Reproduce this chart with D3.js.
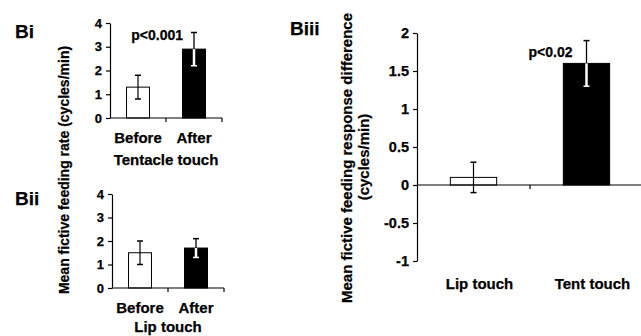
<!DOCTYPE html>
<html>
<head>
<meta charset="utf-8">
<script src="https://cdn.jsdelivr.net/npm/d3@7"></script>
<style>
  body { margin: 0; background: #fff; }
  svg text { font-family: "Liberation Sans", Arial, Helvetica, sans-serif; font-weight: bold; fill: #000; stroke: #000; stroke-width: 0.25px; }
</style>
</head>
<body>
<div id="chart"></div>
<script>
// panel Bi: tentacle touch
const biCats = ['Before', 'After']
const biMeans = [1.3, 2.9]
const biErrs = [0.5, 0.7]

// panel Bii: lip touch
const biiCats = ['Before', 'After']
const biiMeans = [1.5, 1.7]
const biiErrs = [0.5, 0.4]

// panel Biii: difference
const biiiCats = ['Lip touch', 'Tent touch']
const biiiMeans = [0.1, 1.6]
const biiiErrs = [0.2, 0.3]

const smallTicks = [0, 1, 2, 3, 4]
const diffTicks = [-1, -0.5, 0, 0.5, 1, 1.5, 2]
const barFills = ['#fff', '#000']

const width = 641, height = 336

const svg = d3.select('#chart').append('svg')
    .attr('width', width)
    .attr('height', height)

function drawPanel(cfg) {
    const g = svg.append('g')
    const x = d3.scaleBand().domain(cfg.cats).range([cfg.x0, cfg.x1])
        .paddingInner(0.59).paddingOuter(0.295)
    const y = d3.scaleLinear().domain(cfg.domain).range([cfg.yBottom, cfg.yTop])
    const y0 = y(0)

    // y axis
    const yAxis = g.append('g')
        .attr('transform', `translate(${cfg.x0},0)`)
        .call(d3.axisLeft(y).tickValues(cfg.ticks).tickSize(4).tickSizeOuter(0).tickPadding(4)
            .tickFormat(d => String(d)))
    yAxis.selectAll('text').style('font-size', cfg.tickFont + 'px')
    yAxis.selectAll('line, path').attr('stroke', '#000').attr('stroke-width', 1.2)

    // bars
    g.selectAll('rect.bar').data(cfg.means).enter().append('rect')
        .attr('class', 'bar')
        .attr('x', (d, i) => x(cfg.cats[i]))
        .attr('width', x.bandwidth())
        .attr('y', d => y(Math.max(d, 0)))
        .attr('height', d => Math.abs(y(d) - y0))
        .attr('fill', (d, i) => barFills[i])
        .attr('stroke', '#000')
        .attr('stroke-width', 1)

    // x axis line + boundary ticks
    g.append('line')
        .attr('x1', cfg.x0).attr('x2', cfg.x1)
        .attr('y1', y0).attr('y2', y0)
        .attr('stroke', '#000').attr('stroke-width', 1.2)
    const bounds = d3.range(1, cfg.cats.length + 1).map(i => cfg.x0 + i * x.step())
    g.selectAll('line.xt').data(bounds).enter().append('line')
        .attr('class', 'xt')
        .attr('x1', d => d).attr('x2', d => d)
        .attr('y1', y0).attr('y2', y0 + 4)
        .attr('stroke', '#000').attr('stroke-width', 1.2)

    // error bars
    cfg.means.forEach((m, i) => {
        const cx = x(cfg.cats[i]) + x.bandwidth() / 2
        const hi = m + cfg.errs[i], lo = m - cfg.errs[i]
        const dark = barFills[i] === '#000'
        const seg = (a, b, col, w) => g.append('line')
            .attr('x1', cx).attr('x2', cx).attr('y1', y(a)).attr('y2', y(b))
            .attr('stroke', col).attr('stroke-width', w)
        const cap = (v, col) => g.append('line')
            .attr('x1', cx - 3).attr('x2', cx + 3).attr('y1', y(v)).attr('y2', y(v))
            .attr('stroke', col).attr('stroke-width', 1.5)
        if (dark) {
            seg(m, hi, '#000', 1.3)
            seg(lo, m, '#fff', 2.5)
            cap(hi, '#000')
            cap(lo, lo > 0 ? '#fff' : '#000')
        } else {
            seg(lo, hi, '#000', 1.2)
            cap(hi, '#000')
            cap(lo, '#000')
        }
    })

    // category labels
    cfg.cats.forEach((c, i) => {
        g.append('text')
            .attr('x', x(c) + x.bandwidth() / 2 + (cfg.labelShift ? cfg.labelShift[i] : 0))
            .attr('y', cfg.labelY)
            .attr('text-anchor', 'middle')
            .style('font-size', '15px')
            .text(c)
    })
    if (cfg.groupLabel) {
        g.append('text')
            .attr('x', (cfg.x0 + cfg.x1) / 2)
            .attr('y', cfg.groupY)
            .attr('text-anchor', 'middle')
            .style('font-size', '15px')
            .text(cfg.groupLabel)
    }

    // panel letter
    g.append('text')
        .attr('x', cfg.tagX).attr('y', cfg.tagY)
        .style('font-size', '19px')
        .text(cfg.tag)

    return { x, y }
}

const pi = drawPanel({
    cats: biCats, means: biMeans, errs: biErrs,
    x0: 110, x1: 222, yTop: 23, yBottom: 118, domain: [0, 4],
    ticks: smallTicks, tickFont: 13,
    labelY: 143, groupLabel: 'Tentacle touch', groupY: 165,
    tag: 'Bi', tagX: 15, tagY: 38
})
svg.append('text')
    .attr('x', pi.x('After') + pi.x.bandwidth() / 2 - 11)
    .attr('y', pi.y(biMeans[1] + biErrs[1]) + 7.5)
    .attr('text-anchor', 'end')
    .style('font-size', '14px')
    .text('p<0.001')

drawPanel({
    cats: biiCats, means: biiMeans, errs: biiErrs,
    x0: 112, x1: 224, yTop: 194, yBottom: 288, domain: [0, 4],
    ticks: smallTicks, tickFont: 13,
    labelY: 313, groupLabel: 'Lip touch', groupY: 332,
    tag: 'Bii', tagX: 15, tagY: 205
})

const piii = drawPanel({
    cats: biiiCats, means: biiiMeans, errs: biiiErrs,
    x0: 417, x1: 643, yTop: 33, yBottom: 261, domain: [-1, 2],
    ticks: diffTicks, tickFont: 14.5,
    labelY: 289, labelShift: [6, 6],
    tag: 'Biii', tagX: 290, tagY: 35
})
svg.append('text')
    .attr('x', piii.x('Tent touch') + piii.x.bandwidth() / 2 - 14)
    .attr('y', piii.y(biiiMeans[1] + biiiErrs[1]) + 16)
    .attr('text-anchor', 'end')
    .style('font-size', '14px')
    .text('p<0.02')

// y axis titles
svg.append('text')
    .attr('transform', 'translate(69,170) rotate(-90)')
    .attr('text-anchor', 'middle')
    .style('font-size', '14px')
    .text('Mean fictive feeding rate (cycles/min)')

svg.append('text')
    .attr('transform', 'translate(352,158) rotate(-90)')
    .attr('text-anchor', 'middle')
    .style('font-size', '15px')
    .text('Mean fictive feeding response difference')
svg.append('text')
    .attr('transform', 'translate(369,157) rotate(-90)')
    .attr('text-anchor', 'middle')
    .style('font-size', '15px')
    .text('(cycles/min)')
</script>
</body>
</html>
